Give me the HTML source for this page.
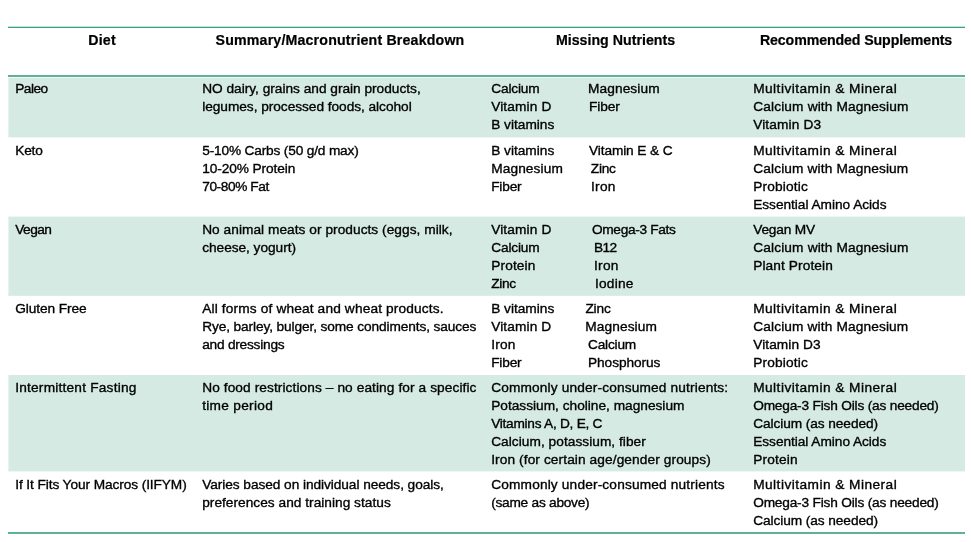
<!DOCTYPE html>
<html lang="en">
<head>
<meta charset="utf-8">
<title>Diet comparison: macronutrients, missing nutrients, supplements</title>
<style>
html,body{margin:0;padding:0;background:#fff}
body{position:relative;width:971px;height:542px;overflow:hidden;color:#000;font-family:"Liberation Sans", sans-serif;font-size:13.7px;line-height:18px;will-change:transform;-webkit-text-stroke:0.35px #000}
.rule{position:absolute;left:8px;width:957px;height:2px;background:#5fb29a}
.head,.row{position:absolute;left:8px;width:957px}
.head{top:28px;height:47px;font-weight:bold;font-size:14.2px;-webkit-text-stroke-width:0.2px}
.alt{background:linear-gradient(90deg,#e6f3ef 0 1px,#d4eae3 1px)}
.c{position:absolute;top:0}
.c1{left:0px;width:187px}
.c2{left:187px;width:289px}
.c3{left:476px;width:262px}
.c4{left:738px;width:219px}
.head .c{text-align:center}
.l{display:block;position:relative;height:18px;padding-left:7.2px;white-space:nowrap}
.head .l{padding-left:1px}
.b{position:absolute;top:0}
</style>
</head>
<body>
<div class="rule" style="top:26px;height:2px;background:linear-gradient(#c6e4da 0 1px,#36a181 1px 2px)"></div>
<div class="head">
<div class="c c1" style="top:3px"><span class="l"><span style="letter-spacing:0.21px">Diet</span></span></div>
<div class="c c2" style="top:3px"><span class="l"><span style="letter-spacing:0.17px">Summary/Macronutrient Breakdown</span></span></div>
<div class="c c3" style="top:3px"><span class="l"><span style="letter-spacing:0.01px">Missing Nutrients</span></span></div>
<div class="c c4" style="top:3px"><span class="l"><span style="letter-spacing:-0.11px">Recommended Supplements</span></span></div>
</div>
<div class="rule" style="top:75px"></div>
<div class="row alt" style="top:78px;height:59px;box-shadow:0 -1px 0 #f4f9f7,0 1px 0 #eef7f4">
<div class="c c1" style="top:2px">
<span class="l"><span style="letter-spacing:-0.49px">Paleo</span></span>
</div>
<div class="c c2" style="top:2px">
<span class="l"><span style="letter-spacing:-0.01px">NO dairy, grains and grain products,</span></span>
<span class="l"><span style="letter-spacing:-0.04px">legumes, processed foods, alcohol</span></span>
</div>
<div class="c c3" style="top:2px">
<span class="l"><span style="letter-spacing:-0.15px">Calcium</span><span class="b" style="left:104px;letter-spacing:0.1px">Magnesium</span></span>
<span class="l"><span style="letter-spacing:0.13px">Vitamin D</span><span class="b" style="left:105px;letter-spacing:-0.11px">Fiber</span></span>
<span class="l"><span>B vitamins</span></span>
</div>
<div class="c c4" style="top:2px">
<span class="l"><span style="letter-spacing:0.46px">Multivitamin &amp; Mineral</span></span>
<span class="l"><span style="letter-spacing:0.15px">Calcium with Magnesium</span></span>
<span class="l"><span style="letter-spacing:0.13px">Vitamin D3</span></span>
</div>
</div>
<div class="row" style="top:137px;height:80px">
<div class="c c1" style="top:5px">
<span class="l"><span style="letter-spacing:-0.19px">Keto</span></span>
</div>
<div class="c c2" style="top:5px">
<span class="l"><span style="letter-spacing:-0.17px">5-10% Carbs (50 g/d max)</span></span>
<span class="l"><span style="letter-spacing:-0.09px">10-20% Protein</span></span>
<span class="l"><span style="letter-spacing:-0.41px">70-80% Fat</span></span>
</div>
<div class="c c3" style="top:5px">
<span class="l"><span style="letter-spacing:-0.01px">B vitamins</span><span class="b" style="left:105px;letter-spacing:-0.11px">Vitamin E &amp; C</span></span>
<span class="l"><span style="letter-spacing:0.11px">Magnesium</span><span class="b" style="left:106.8px;letter-spacing:-0.24px">Zinc</span></span>
<span class="l"><span style="letter-spacing:-0.19px">Fiber</span><span class="b" style="left:107px;letter-spacing:0.28px">Iron</span></span>
</div>
<div class="c c4" style="top:5px">
<span class="l"><span style="letter-spacing:0.46px">Multivitamin &amp; Mineral</span></span>
<span class="l"><span style="letter-spacing:0.14px">Calcium with Magnesium</span></span>
<span class="l"><span style="letter-spacing:0.16px">Probiotic</span></span>
<span class="l"><span style="letter-spacing:-0.03px">Essential Amino Acids</span></span>
</div>
</div>
<div class="row alt" style="top:217px;height:78px;box-shadow:0 -1px 0 #eef7f4,0 1px 0 #dbeee8">
<div class="c c1" style="top:4px">
<span class="l"><span style="letter-spacing:-0.51px">Vegan</span></span>
</div>
<div class="c c2" style="top:4px">
<span class="l"><span style="letter-spacing:0.04px">No animal meats or products (eggs, milk,</span></span>
<span class="l"><span style="letter-spacing:-0.04px">cheese, yogurt)</span></span>
</div>
<div class="c c3" style="top:4px">
<span class="l"><span style="letter-spacing:0.13px">Vitamin D</span><span class="b" style="left:108px;letter-spacing:-0.34px">Omega-3 Fats</span></span>
<span class="l"><span style="letter-spacing:-0.15px">Calcium</span><span class="b" style="left:110px;letter-spacing:-0.56px">B12</span></span>
<span class="l"><span style="letter-spacing:0.13px">Protein</span><span class="b" style="left:110px;letter-spacing:0.29px">Iron</span></span>
<span class="l"><span style="letter-spacing:-0.28px">Zinc</span><span class="b" style="left:111px;letter-spacing:0.22px">Iodine</span></span>
</div>
<div class="c c4" style="top:4px">
<span class="l"><span style="letter-spacing:-0.17px">Vegan MV</span></span>
<span class="l"><span style="letter-spacing:0.15px">Calcium with Magnesium</span></span>
<span class="l"><span style="letter-spacing:0.1px">Plant Protein</span></span>
</div>
</div>
<div class="row" style="top:296px;height:79px">
<div class="c c1" style="top:4px">
<span class="l"><span style="letter-spacing:-0.09px">Gluten Free</span></span>
</div>
<div class="c c2" style="top:4px">
<span class="l"><span style="letter-spacing:0.15px">All forms of wheat and wheat products.</span></span>
<span class="l"><span style="letter-spacing:-0.11px">Rye, barley, bulger, some condiments, sauces</span></span>
<span class="l"><span style="letter-spacing:-0.23px">and dressings</span></span>
</div>
<div class="c c3" style="top:4px">
<span class="l"><span style="letter-spacing:-0.01px">B vitamins</span><span class="b" style="left:101.4px;letter-spacing:-0.13px">Zinc</span></span>
<span class="l"><span style="letter-spacing:0.12px">Vitamin D</span><span class="b" style="left:101.3px;letter-spacing:0.1px">Magnesium</span></span>
<span class="l"><span style="letter-spacing:0.22px">Iron</span><span class="b" style="left:104px;letter-spacing:-0.2px">Calcium</span></span>
<span class="l"><span style="letter-spacing:-0.19px">Fiber</span><span class="b" style="left:104px;letter-spacing:-0.07px">Phosphorus</span></span>
</div>
<div class="c c4" style="top:4px">
<span class="l"><span style="letter-spacing:0.46px">Multivitamin &amp; Mineral</span></span>
<span class="l"><span style="letter-spacing:0.14px">Calcium with Magnesium</span></span>
<span class="l"><span style="letter-spacing:0.08px">Vitamin D3</span></span>
<span class="l"><span style="letter-spacing:0.16px">Probiotic</span></span>
</div>
</div>
<div class="row alt" style="top:375px;height:96px;box-shadow:0 1px 0 #eef7f4">
<div class="c c1" style="top:4px">
<span class="l"><span style="letter-spacing:0.21px">Intermittent Fasting</span></span>
</div>
<div class="c c2" style="top:4px">
<span class="l"><span style="letter-spacing:0.09px">No food restrictions – no eating for a specific</span></span>
<span class="l"><span style="letter-spacing:0.29px">time period</span></span>
</div>
<div class="c c3" style="top:4px">
<span class="l"><span style="letter-spacing:0.15px">Commonly under-consumed nutrients:</span></span>
<span class="l"><span>Potassium, choline, magnesium</span></span>
<span class="l"><span style="letter-spacing:-0.27px">Vitamins A, D, E, C</span></span>
<span class="l"><span style="letter-spacing:0.04px">Calcium, potassium, fiber</span></span>
<span class="l"><span style="letter-spacing:0.1px">Iron (for certain age/gender groups)</span></span>
</div>
<div class="c c4" style="top:4px">
<span class="l"><span style="letter-spacing:0.46px">Multivitamin &amp; Mineral</span></span>
<span class="l"><span style="letter-spacing:-0.19px">Omega-3 Fish Oils (as needed)</span></span>
<span class="l"><span style="letter-spacing:-0.08px">Calcium (as needed)</span></span>
<span class="l"><span style="letter-spacing:-0.04px">Essential Amino Acids</span></span>
<span class="l"><span style="letter-spacing:0.16px">Protein</span></span>
</div>
</div>
<div class="row" style="top:471px;height:61px">
<div class="c c1" style="top:5px">
<span class="l"><span style="letter-spacing:-0.09px">If It Fits Your Macros (IIFYM)</span></span>
</div>
<div class="c c2" style="top:5px">
<span class="l"><span style="letter-spacing:-0.06px">Varies based on individual needs, goals,</span></span>
<span class="l"><span style="letter-spacing:0.02px">preferences and training status</span></span>
</div>
<div class="c c3" style="top:5px">
<span class="l"><span style="letter-spacing:0.16px">Commonly under-consumed nutrients</span></span>
<span class="l"><span style="letter-spacing:-0.25px">(same as above)</span></span>
</div>
<div class="c c4" style="top:5px">
<span class="l"><span style="letter-spacing:0.46px">Multivitamin &amp; Mineral</span></span>
<span class="l"><span style="letter-spacing:-0.19px">Omega-3 Fish Oils (as needed)</span></span>
<span class="l"><span style="letter-spacing:-0.08px">Calcium (as needed)</span></span>
</div>
</div>
<div class="rule" style="top:532px"></div>
</body>
</html>
